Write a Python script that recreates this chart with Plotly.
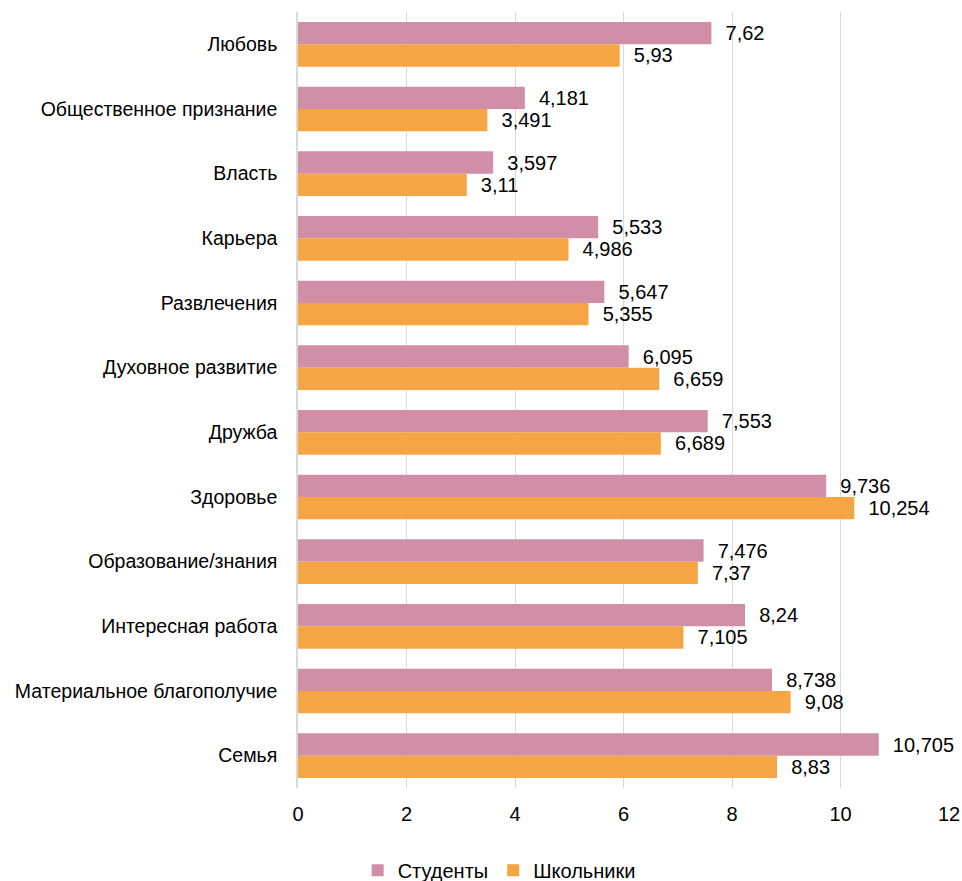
import plotly.graph_objects as go

categories = ["Любовь", "Общественное признание", "Власть", "Карьера", "Развлечения",
              "Духовное развитие", "Дружба", "Здоровье", "Образование/знания",
              "Интересная работа", "Материальное благополучие", "Семья"]
students = [7.62, 4.181, 3.597, 5.533, 5.647, 6.095, 7.553, 9.736, 7.476, 8.24, 8.738, 10.705]
pupils = [5.93, 3.491, 3.11, 4.986, 5.355, 6.659, 6.689, 10.254, 7.37, 7.105, 9.08, 8.83]
tick_vals = [0, 2, 4, 6, 8, 10, 12]

FONT = "Liberation Sans Narrow, Arial Narrow, Liberation Sans, Arial, sans-serif"

def fmt(v):
    return "  " + ("%g" % v).replace(".", ",")

fig = go.Figure()
fig.add_trace(go.Bar(
    y=categories, x=students, orientation="h", name="Студенты",
    marker=dict(color="#D08FA6", line=dict(width=0)),
    text=[fmt(v) for v in students], textposition="outside", cliponaxis=False,
    textfont=dict(size=20, color="#000000", family=FONT),
))
fig.add_trace(go.Bar(
    y=categories, x=pupils, orientation="h", name="Школьники",
    marker=dict(color="#F6A544", line=dict(width=0)),
    text=[fmt(v) for v in pupils], textposition="outside", cliponaxis=False,
    textfont=dict(size=20, color="#000000", family=FONT),
))

fig.update_layout(
    width=962, height=881,
    margin=dict(l=298, r=13, t=12, b=93, autoexpand=False),
    barmode="group", bargap=0.31, bargroupgap=0.0,
    plot_bgcolor="white", paper_bgcolor="white",
    font=dict(family=FONT, size=19, color="#000000"),
    showlegend=True,
    legend=dict(orientation="h", x=0.309, xanchor="center", y=-0.106, yanchor="middle",
                font=dict(size=20, family=FONT), traceorder="normal"),
)
fig.update_xaxes(range=[0, 12], tickvals=tick_vals, ticktext=[str(t) for t in tick_vals],
                 showgrid=True, gridcolor="#D9D9D9", gridwidth=1.2, zeroline=False,
                 showline=False, ticks="", tickfont=dict(size=20, family=FONT),
                 ticklabelstandoff=12, automargin=False)
fig.update_yaxes(autorange="reversed", showgrid=False, showline=True, linecolor="#D9D9D9",
                 linewidth=1.5, ticks="", tickfont=dict(size=19.5, family=FONT),
                 ticklabelstandoff=15, automargin=False)

fig.write_html("out.html", config={"displayModeBar": False},
               post_script="document.body.style.margin='0';document.body.style.overflow='hidden';")
